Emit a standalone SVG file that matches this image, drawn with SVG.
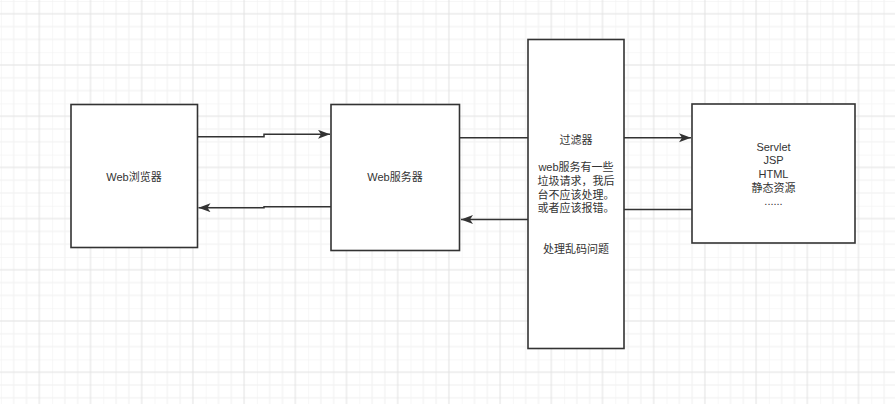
<svg xmlns="http://www.w3.org/2000/svg" width="895" height="404" viewBox="0 0 895 404">
  <style>
    .box { fill: #ffffff; stroke: #333333; stroke-width: 1.6; }
    .conn { fill: none; stroke: #333333; stroke-width: 1.5; }
    .lbl { font-family: "Liberation Sans", "Noto Sans CJK SC", sans-serif; font-size: 11px; fill: #333333; text-anchor: middle; }
    .minor { stroke: #f0f0f0; stroke-width: 1; }
    .major { stroke: #e2e2e2; stroke-width: 1; }
  </style>
  <defs>
    <pattern id="grid" patternUnits="userSpaceOnUse" x="0.9" y="1" width="51.2" height="51.2">
      <line class="minor" x1="0" y1="0" x2="0" y2="51.2"/>
      <line class="minor" x1="12.8" y1="0" x2="12.8" y2="51.2"/>
      <line class="minor" x1="25.6" y1="0" x2="25.6" y2="51.2"/>
      <line class="minor" x1="0" y1="0" x2="51.2" y2="0"/>
      <line class="minor" x1="0" y1="25.6" x2="51.2" y2="25.6"/>
      <line class="minor" x1="0" y1="38.4" x2="51.2" y2="38.4"/>
      <line class="major" x1="0" y1="12.8" x2="51.2" y2="12.8"/>
      <line class="major" x1="38.4" y1="0" x2="38.4" y2="51.2"/>
    </pattern>
    <marker id="arrow" markerUnits="userSpaceOnUse" markerWidth="14" markerHeight="10" refX="12" refY="4.5" orient="auto">
      <path d="M0,0 L12,4.5 L0,9 L3,4.5 z" fill="#333333"/>
    </marker>
  </defs>
  <rect x="0" y="0" width="895" height="404" fill="#ffffff"/>
  <rect x="0" y="0" width="895" height="404" fill="url(#grid)"/>

  <g id="connectors">
    <path class="conn" d="M197.5,136.7 H264 V134.3 H330" marker-end="url(#arrow)"/>
    <path class="conn" d="M331,206.7 H264 V207.7 H198.5" marker-end="url(#arrow)"/>
    <path class="conn" d="M459.5,137.7 H528"/>
    <path class="conn" d="M528,219.5 H461" marker-end="url(#arrow)"/>
    <path class="conn" d="M624,137.7 H691" marker-end="url(#arrow)"/>
    <path class="conn" d="M692,209.5 H624"/>
  </g>

  <g id="browser">
    <rect class="box" x="71" y="104.5" width="126.5" height="143"/>
    <text class="lbl" x="134" y="180.5">Web浏览器</text>
  </g>

  <g id="server">
    <rect class="box" x="331" y="104.5" width="128.5" height="146"/>
    <text class="lbl" x="395" y="180.5">Web服务器</text>
  </g>

  <g id="filter">
    <rect class="box" x="528" y="39.5" width="96" height="309"/>
    <text class="lbl" x="576" y="144">过滤器</text>
    <text class="lbl" x="576" y="171.3">web服务有一些</text>
    <text class="lbl" x="576" y="185">垃圾请求，我后</text>
    <text class="lbl" x="576" y="198.6">台不应该处理。</text>
    <text class="lbl" x="576" y="212.3">或者应该报错。</text>
    <text class="lbl" x="576" y="253.2">处理乱码问题</text>
  </g>

  <g id="resources">
    <rect class="box" x="692" y="104" width="163" height="139"/>
    <text class="lbl" x="773.5" y="150.7">Servlet</text>
    <text class="lbl" x="773.5" y="164.3">JSP</text>
    <text class="lbl" x="773.5" y="178">HTML</text>
    <text class="lbl" x="773.5" y="191.6">静态资源</text>
    <text class="lbl" x="773.5" y="205.3">......</text>
  </g>
</svg>
